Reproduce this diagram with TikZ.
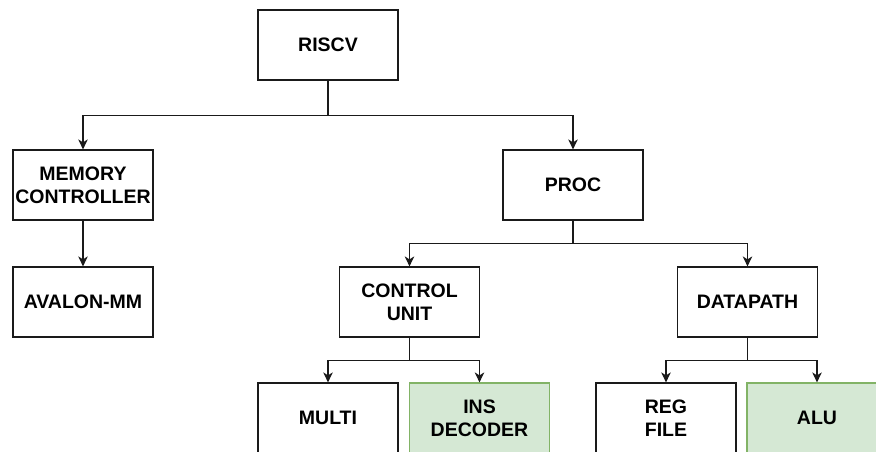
\documentclass[tikz,border=0pt]{standalone}
\usepackage{fontspec}
\setmainfont{Liberation Sans}
\usetikzlibrary{arrows.meta}
\definecolor{gfill}{HTML}{D5E8D4}
\definecolor{gline}{HTML}{82B366}
\definecolor{lncol}{HTML}{1A1A1A}
\tikzset{
  blk/.style={draw=lncol, line width=1.2pt, fill=white, minimum width=140pt, minimum height=70pt,
    inner sep=0pt, align=center, font=\fontsize{19.5}{23}\selectfont\bfseries},
  gblk/.style={blk, draw=gline, fill=gfill},
  arr/.style={draw=lncol, line width=1.2pt, -{Stealth[length=10pt,width=9.5pt,inset=3pt]}},
}
\begin{document}
\begin{tikzpicture}
\useasboundingbox (0,0) rectangle (876pt,-452pt);
\clip (0,0) rectangle (876pt,-452pt);
\fill[white] (0,0) rectangle (876pt,-452pt);
\node[blk] (riscv) at (328pt,-45pt) {RISCV};
\node[blk] (mem) at (83pt,-185pt) {MEMORY\\CONTROLLER};
\node[blk] (proc) at (573pt,-185pt) {PROC};
\node[blk] (aval) at (83pt,-302pt) {AVALON-MM};
\node[blk] (cu) at (409.5pt,-302pt) {CONTROL\\UNIT};
\node[blk] (dp) at (747.5pt,-302pt) {DATAPATH};
\node[blk] (multi) at (328pt,-418pt) {MULTI};
\node[gblk] (ins) at (479.5pt,-418pt) {INS\\DECODER};
\node[blk] (reg) at (666pt,-418pt) {REG\\FILE};
\node[gblk] (alu) at (817pt,-418pt) {ALU};
\draw[arr] (riscv.south) -- ++(0,-35pt) -| (mem.north);
\draw[arr] (riscv.south) -- ++(0,-35pt) -| (proc.north);
\draw[arr] (mem.south) -- (aval.north);
\draw[arr] (proc.south) -- ++(0,-23pt) -| (cu.north);
\draw[arr] (proc.south) -- ++(0,-23pt) -| (dp.north);
\draw[arr] (cu.south) -- ++(0,-23pt) -| (multi.north);
\draw[arr] (cu.south) -- ++(0,-23pt) -| (ins.north);
\draw[arr] (dp.south) -- ++(0,-23pt) -| (reg.north);
\draw[arr] (dp.south) -- ++(0,-23pt) -| (alu.north);
\end{tikzpicture}
\end{document}
